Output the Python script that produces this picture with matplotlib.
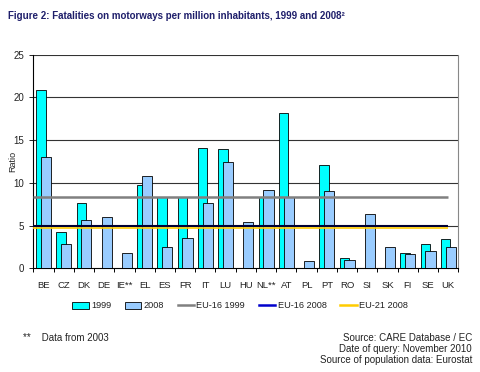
import matplotlib
matplotlib.use("Agg")
import matplotlib.pyplot as plt
from matplotlib.patches import Patch
from matplotlib.lines import Line2D
import numpy as np

plt.rcParams['font.family'] = ['Liberation Sans', 'DejaVu Sans']

countries = ["BE", "CZ", "DK", "DE", "IE**", "EL", "ES", "FR", "IT", "LU", "HU",
             "NL**", "AT", "PL", "PT", "RO", "SI", "SK", "FI", "SE", "UK"]
v1999 = [20.9, 4.2, 7.6, np.nan, np.nan, 9.7, 8.3, 8.3, 14.1, 14.0, np.nan,
         8.3, 18.2, np.nan, 12.1, 1.2, np.nan, np.nan, 1.8, 2.8, 3.4]
v2008 = [13.0, 2.9, 5.7, 6.0, 1.8, 10.8, 2.5, 3.6, 7.6, 12.4, 5.4,
         9.2, 8.4, 0.9, 9.0, 1.0, 6.4, 2.5, 1.7, 2.0, 2.5]
eu16_1999 = 8.3
eu16_2008 = 4.95
eu21_2008 = 4.75

fig = plt.figure(figsize=(4.8, 3.72), dpi=100)
ax = fig.add_axes([0.0694, 0.2788, 0.8856, 0.5742])

x = np.arange(len(countries))
ax.bar(x - 0.13, v1999, width=0.47, color="#00FFFF", edgecolor="black", linewidth=0.6, zorder=3)
ax.bar(x + 0.12, v2008, width=0.5, color="#99CCFF", edgecolor="black", linewidth=0.6, zorder=4)

ax.hlines(eu16_1999, -0.5, 20, color="#808080", linewidth=1.8, zorder=5)
ax.hlines(eu16_2008, -0.5, 20, color="#000033", linewidth=1.5, zorder=5)
ax.hlines(eu21_2008, -0.5, 20, color="#FFCC00", linewidth=1.2, zorder=5)

ax.set_xlim(-0.5, len(countries) - 0.5)
ax.set_ylim(0, 25)
ax.set_yticks([0, 5, 10, 15, 20, 25])
for yv in [5, 10, 15, 20, 25]:
    ax.axhline(yv, color="#333333", linewidth=0.8, zorder=1)

ax.set_xticks(x)
ax.set_xticklabels(countries, fontsize=6.8, color="#222222")
ax.set_xticks(np.arange(-0.5, len(countries), 1), minor=True)
ax.tick_params(axis="x", which="major", length=0, pad=9)
ax.tick_params(axis="x", which="minor", length=3, width=0.7, direction="out")
ax.tick_params(axis="y", labelsize=7, length=3, width=0.7, colors="#222222")
ax.set_ylabel("Ratio", fontsize=6.5, color="#222222")
ax.yaxis.set_label_coords(-0.038, 0.5)

ax.spines["top"].set_visible(False)
ax.spines["right"].set_color("#888888")
ax.spines["left"].set_color("black")
ax.spines["bottom"].set_color("black")

handles = [Patch(facecolor="#00FFFF", edgecolor="black", linewidth=0.6),
           Patch(facecolor="#99CCFF", edgecolor="black", linewidth=0.6),
           Line2D([0], [0], color="#808080", linewidth=1.8),
           Line2D([0], [0], color="#0000CC", linewidth=1.8),
           Line2D([0], [0], color="#FFCC00", linewidth=1.8)]
labels = ["1999", "2008", "EU-16 1999", "EU-16 2008", "EU-21 2008"]
fig.legend(handles, labels, loc="center", bbox_to_anchor=(0.5, 1 - 306 / 372), ncol=5,
           frameon=False, fontsize=6.6, handlelength=1.8, handleheight=0.7,
           columnspacing=1.5, handletextpad=0.25, labelcolor="#222222")

fig.text(8 / 480, 1 - 16 / 372,
         "Figure 2: Fatalities on motorways per million inhabitants, 1999 and 2008\u00b2",
         fontsize=7.0, fontweight="bold", color="#1F1F6B", va="center", ha="left")
fig.text(23 / 480, 1 - 338 / 372, "**    Data from 2003", fontsize=7, color="#222222",
         va="center", ha="left")
for i, t in enumerate(["Source: CARE Database / EC", "Date of query: November 2010",
                       "Source of population data: Eurostat"]):
    fig.text(472 / 480, 1 - (338 + 11 * i) / 372, t, fontsize=7, color="#222222",
             va="center", ha="right")

fig.savefig("out.png", dpi=100)
